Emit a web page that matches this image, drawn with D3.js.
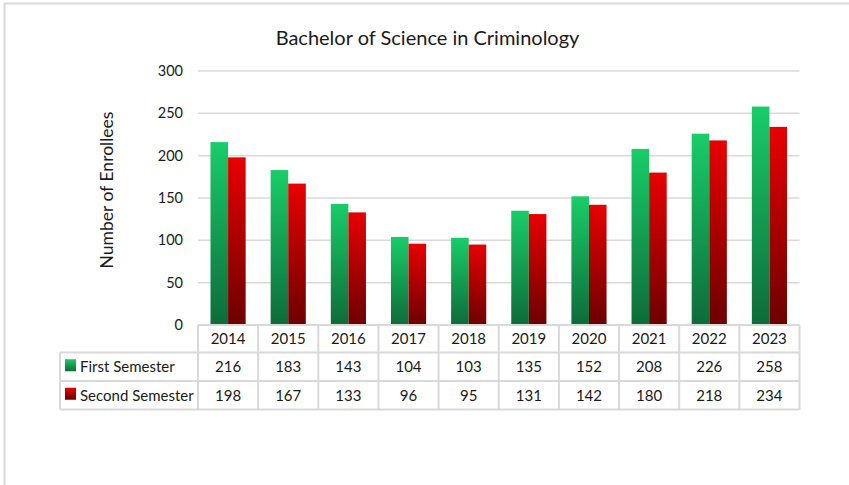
<!DOCTYPE html>
<html>
<head>
<meta charset="utf-8">
<script src="https://cdn.jsdelivr.net/npm/d3@7/dist/d3.min.js"></script>
<style>
html,body{margin:0;padding:0;background:#fff;}
svg{display:block;}
text{font-family:Lato,"Noto Sans",sans-serif;fill:#1a1a1a;}
</style>
</head>
<body>
<svg id="chart" width="849" height="485"></svg>
<script>
const years = ["2014","2015","2016","2017","2018","2019","2020","2021","2022","2023"];
const firstSemester = [216,183,143,104,103,135,152,208,226,258];
const secondSemester = [198,167,133,96,95,131,142,180,218,234];
const seriesNames = ["First Semester","Second Semester"];
const yTicks = [0,50,100,150,200,250,300];
const titleText = "Bachelor of Science in Criminology";
const yAxisTitle = "Number of Enrollees";

(function(){
const svg = d3.select("#chart");
const W = 849, H = 485;
const pLeft = 198, pRight = 799.5, pTop = 71, pBottom = 325;
const gridColor = "#d9d9d9";

svg.append("line").attr("x1",4).attr("x2",W).attr("y1",3.5).attr("y2",3.5).attr("stroke",gridColor).attr("stroke-width",2);
svg.append("line").attr("x1",4.5).attr("x2",4.5).attr("y1",3).attr("y2",H).attr("stroke",gridColor).attr("stroke-width",2);

const defs = svg.append("defs");
function grad(id, c1, c2){
  const g = defs.append("linearGradient").attr("id",id).attr("x1",0).attr("x2",0).attr("y1",0).attr("y2",1);
  g.append("stop").attr("offset","0%").attr("stop-color",c1);
  g.append("stop").attr("offset","100%").attr("stop-color",c2);
}
grad("gGreen","#18cd69","#0e6b39");
grad("gRed","#e80000","#6c0000");
const fills = ["url(#gGreen)","url(#gRed)"];

const x = d3.scaleBand().domain(years).range([pLeft,pRight]).paddingInner(0).paddingOuter(0);
const x1 = d3.scaleBand().domain(seriesNames).range([12.5, x.bandwidth()-12.5]).padding(0);
const y = d3.scaleLinear().domain([0,300]).range([pBottom,pTop]);

svg.append("g").selectAll("line").data(yTicks.filter(d=>d>0)).join("line")
  .attr("x1",pLeft).attr("x2",pRight).attr("y1",d=>y(d)).attr("y2",d=>y(d))
  .attr("stroke",gridColor).attr("stroke-width",1.5);

const yAxis = d3.axisLeft(y).tickValues(yTicks).tickSize(0).tickPadding(15);
const ya = svg.append("g").attr("transform",`translate(${pLeft},0)`).call(yAxis);
ya.select(".domain").remove();
ya.selectAll("text").attr("font-size",14.5).style("font-family","Lato,'Noto Sans',sans-serif").attr("fill","#1a1a1a");

const series = [firstSemester, secondSemester];
series.forEach((vals,si)=>{
  svg.append("g").selectAll("rect").data(years).join("rect")
    .attr("x",d=>x(d)+x1(seriesNames[si]))
    .attr("width",x1.bandwidth())
    .attr("y",(d,i)=>y(vals[i]))
    .attr("height",(d,i)=>y(0)-y(vals[i]))
    .attr("fill",fills[si]);
});

svg.append("text").attr("x",427.5).attr("y",45).attr("text-anchor","middle")
  .attr("font-size",20).text(titleText);

svg.append("text").attr("transform","translate(113,190) rotate(-90)").attr("text-anchor","middle")
  .attr("font-size",17.5).text(yAxisTitle);

const rowTops = [325, 352.5, 381];
const rowBottom = 409.5;
const legendLeft = 60;
const tbl = svg.append("g");
const lc = gridColor;
tbl.append("line").attr("x1",pLeft).attr("x2",pRight).attr("y1",rowTops[0]).attr("y2",rowTops[0]).attr("stroke",lc).attr("stroke-width",2);
[rowTops[1],rowTops[2],rowBottom].forEach(yy=>{
  tbl.append("line").attr("x1",legendLeft).attr("x2",pRight).attr("y1",yy).attr("y2",yy).attr("stroke",lc).attr("stroke-width",2);
});
tbl.append("line").attr("x1",legendLeft).attr("x2",legendLeft).attr("y1",rowTops[1]).attr("y2",rowBottom).attr("stroke",lc).attr("stroke-width",2);
const vx = years.map(d=>x(d)).concat([pRight]);
tbl.selectAll("line.v").data(vx).join("line").attr("class","v")
  .attr("x1",d=>d).attr("x2",d=>d).attr("y1",rowTops[0]).attr("y2",rowBottom).attr("stroke",lc).attr("stroke-width",2);

tbl.selectAll("text.yr").data(years).join("text").attr("class","yr")
  .attr("x",d=>x(d)+x.bandwidth()/2).attr("y",(rowTops[0]+rowTops[1])/2+5.5)
  .attr("text-anchor","middle").attr("font-size",15).text(d=>d);
series.forEach((vals,si)=>{
  const yc = (rowTops[si+1] + (si===0?rowTops[2]:rowBottom))/2 + 5.5;
  tbl.append("g").selectAll("text").data(years).join("text")
    .attr("x",d=>x(d)+x.bandwidth()/2).attr("y",yc)
    .attr("text-anchor","middle").attr("font-size",15).text((d,i)=>vals[i]);
  tbl.append("rect").attr("x",65).attr("y",yc-13).attr("width",11).attr("height",12).attr("fill",fills[si]);
  tbl.append("text").attr("x",80).attr("y",yc).attr("font-size",15).text(seriesNames[si]);
});
})();
</script>
</body>
</html>
